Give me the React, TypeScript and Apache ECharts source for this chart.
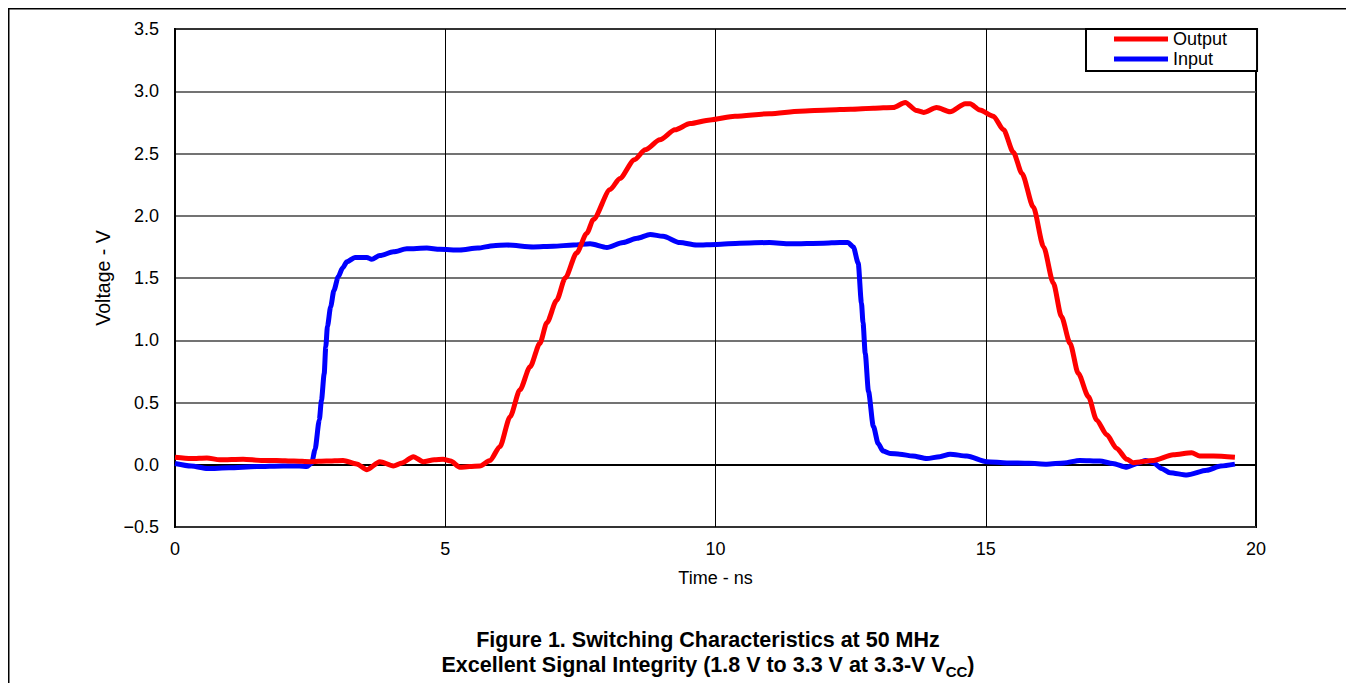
import React, { useEffect, useRef } from "react";
import * as echarts from "echarts";

const inputT = [0, 0.3, 0.6, 1.0, 1.5, 2.0, 2.3, 2.44, 2.53, 2.59, 2.67, 2.71, 2.76, 2.79, 2.82, 2.88, 2.94, 3.02, 3.1, 3.18, 3.33, 3.55, 3.64, 3.79, 4.04, 4.29, 4.66, 4.9, 5.27, 5.6, 5.89, 6.14, 6.63, 7.0, 7.37, 7.68, 7.99, 8.29, 8.55, 8.79, 9.03, 9.34, 9.65, 10.02, 10.45, 11.0, 11.38, 12.0, 12.3, 12.45, 12.55, 12.64, 12.7, 12.73, 12.77, 12.83, 12.92, 13.01, 13.1, 13.23, 13.41, 13.65, 13.91, 14.15, 14.34, 14.65, 15.02, 15.39, 15.8, 16.13, 16.45, 16.74, 17.11, 17.35, 17.61, 17.8, 17.95, 18.1, 18.25, 18.41, 18.72, 19.09, 19.35, 19.61];
const inputV = [0.01, -0.01, -0.03, -0.025, -0.015, -0.01, -0.01, -0.015, 0.015, 0.12, 0.36, 0.52, 0.73, 0.95, 1.11, 1.27, 1.4, 1.51, 1.58, 1.63, 1.665, 1.665, 1.65, 1.68, 1.71, 1.735, 1.74, 1.73, 1.725, 1.74, 1.76, 1.765, 1.75, 1.755, 1.765, 1.775, 1.745, 1.785, 1.82, 1.85, 1.835, 1.785, 1.765, 1.77, 1.78, 1.785, 1.775, 1.78, 1.785, 1.785, 1.75, 1.62, 1.3, 1.14, 0.895, 0.59, 0.31, 0.17, 0.11, 0.09, 0.085, 0.07, 0.05, 0.065, 0.085, 0.07, 0.025, 0.015, 0.012, 0.005, 0.015, 0.035, 0.03, 0.01, -0.02, 0.01, 0.035, 0.017, -0.03, -0.064, -0.083, -0.045, -0.01, 0.005];

const outputT = [0, 0.3, 0.59, 0.83, 1.26, 1.6, 1.88, 2.2, 2.5, 2.8, 3.11, 3.36, 3.55, 3.79, 4.04, 4.2, 4.41, 4.59, 4.8, 4.96, 5.1, 5.27, 5.45, 5.64, 5.83, 6.01, 6.2, 6.38, 6.57, 6.75, 6.88, 7.06, 7.22, 7.43, 7.62, 7.74, 8.05, 8.23, 8.5, 8.7, 8.97, 9.25, 9.53, 9.9, 10.36, 11.0, 11.56, 12.1, 12.5, 12.92, 13.29, 13.51, 13.72, 13.85, 14.09, 14.34, 14.62, 14.71, 14.89, 15.14, 15.33, 15.51, 15.67, 15.88, 16.07, 16.25, 16.4, 16.56, 16.71, 16.9, 17.05, 17.24, 17.42, 17.61, 17.73, 18.1, 18.47, 18.81, 18.96, 19.21, 19.61];
const outputV = [0.06, 0.05, 0.055, 0.04, 0.045, 0.035, 0.035, 0.03, 0.025, 0.03, 0.035, 0.006, -0.04, 0.025, -0.01, 0.015, 0.065, 0.025, 0.04, 0.045, 0.03, -0.02, -0.015, -0.01, 0.035, 0.145, 0.386, 0.6, 0.787, 0.975, 1.14, 1.32, 1.5, 1.7, 1.86, 1.97, 2.21, 2.3, 2.45, 2.53, 2.61, 2.69, 2.74, 2.77, 2.8, 2.82, 2.84, 2.85, 2.855, 2.863, 2.87, 2.91, 2.845, 2.83, 2.87, 2.835, 2.9, 2.9, 2.85, 2.8, 2.69, 2.51, 2.34, 2.07, 1.75, 1.46, 1.19, 0.975, 0.735, 0.547, 0.36, 0.24, 0.132, 0.044, 0.017, 0.035, 0.08, 0.097, 0.07, 0.07, 0.06];

const seriesNames = ["Output", "Input"];
const xAxisTitle = "Time - ns";
const yAxisTitle = "Voltage - V";
const captionLine1 = "Figure 1. Switching Characteristics at 50 MHz";
const captionLine2Main = "Excellent Signal Integrity (1.8 V to 3.3 V at 3.3-V V";
const captionLine2Sub = "CC";
const captionLine2Tail = ")";

const FONT = "'Liberation Sans', Arial, Helvetica, sans-serif";

function zip(t: number[], v: number[]) {
  return t.map((x, i) => [x, v[i]]);
}

function measure(text: string, font: string) {
  const ctx = document.createElement("canvas").getContext("2d");
  if (!ctx) return text.length * 10;
  ctx.font = font;
  return ctx.measureText(text).width;
}

export default function App() {
  const ref = useRef<HTMLDivElement>(null);
  useEffect(() => {
    document.documentElement.style.overflow = "hidden";
    if (!ref.current) return;
    const chart = echarts.init(ref.current, null, { renderer: "svg" });
    const capSize = 21.5;
    const subSize = 15;
    const mainFont = `bold ${capSize}px 'Liberation Sans'`;
    const subFont = `bold ${subSize}px 'Liberation Sans'`;
    const w1 = measure(captionLine2Main, mainFont);
    const w2 = measure(captionLine2Sub, subFont);
    const w3 = measure(captionLine2Tail, mainFont);
    const capCx = 700;
    const x0 = capCx - (w1 + w2 + w3) / 2;
    const line2Y = 657;
    chart.setOption({
      animation: false,
      grid: { left: 167, top: 21, width: 1081, height: 498, show: true, borderColor: "#000", borderWidth: 2, backgroundColor: "transparent" },
      xAxis: {
        type: "value",
        min: 0,
        max: 20,
        interval: 5,
        name: xAxisTitle,
        nameLocation: "middle",
        nameGap: 42,
        nameTextStyle: { color: "#000", fontSize: 18, fontFamily: FONT },
        axisLine: { show: true, lineStyle: { color: "#000", width: 2 } },
        axisTick: { show: false },
        axisLabel: { color: "#000", fontSize: 18, fontFamily: FONT, margin: 13 },
        splitLine: { show: true, lineStyle: { color: "#000", width: 1 } },
      },
      yAxis: {
        type: "value",
        min: -0.5,
        max: 3.5,
        interval: 0.5,
        name: yAxisTitle,
        nameLocation: "middle",
        nameGap: 62,
        nameTextStyle: { color: "#000", fontSize: 19.5, fontFamily: FONT },
        axisLine: { show: true, lineStyle: { color: "#000", width: 2 } },
        axisTick: { show: false },
        axisLabel: {
          color: "#000",
          fontSize: 18,
          fontFamily: FONT,
          margin: 16,
          formatter: (v: number) => (v < 0 ? "\u2212" + Math.abs(v).toFixed(1) : v.toFixed(1)),
        },
        splitLine: { show: true, lineStyle: { color: "#444", width: 1.5 } },
      },
      legend: {
        data: [
          { name: seriesNames[0], icon: "rect", itemStyle: { color: "#ff0000" } },
          { name: seriesNames[1], icon: "rect", itemStyle: { color: "#0000ff" } },
        ],
        orient: "vertical",
        left: 1078,
        top: 21,
        padding: [1, 30, 3, 28],
        borderColor: "#000",
        borderWidth: 2,
        backgroundColor: "#fff",
        itemWidth: 54,
        itemHeight: 5,
        itemGap: 2,
        textStyle: { color: "#000", fontSize: 18, fontFamily: FONT, lineHeight: 18 },
      },
      series: [
        {
          name: "Input",
          type: "line",
          data: zip(inputT, inputV),
          symbol: "none",
          showSymbol: false,
          smooth: 0.25,
          smoothMonotone: "x",
          lineStyle: { color: "#0000ff", width: 5 },
          itemStyle: { color: "#0000ff" },
        },
        {
          name: "Output",
          type: "line",
          data: zip(outputT, outputV),
          symbol: "none",
          showSymbol: false,
          smooth: 0.25,
          smoothMonotone: "x",
          lineStyle: { color: "#ff0000", width: 5 },
          itemStyle: { color: "#ff0000" },
        },
      ],
      graphic: [
        { type: "rect", shape: { x: 0.75, y: 0.75, width: 1341.5, height: 720 }, style: { fill: "none", stroke: "#000", lineWidth: 1.5 }, silent: true },
        { type: "text", x: capCx, y: 632, style: { text: captionLine1, font: mainFont, fill: "#000", textAlign: "center", textVerticalAlign: "middle" } },
        { type: "text", x: x0, y: line2Y, style: { text: captionLine2Main, font: mainFont, fill: "#000", textAlign: "left", textVerticalAlign: "middle" } },
        { type: "text", x: x0 + w1, y: line2Y + 6, style: { text: captionLine2Sub, font: subFont, fill: "#000", textAlign: "left", textVerticalAlign: "middle" } },
        { type: "text", x: x0 + w1 + w2, y: line2Y, style: { text: captionLine2Tail, font: mainFont, fill: "#000", textAlign: "left", textVerticalAlign: "middle" } },
      ],
    });
    return () => chart.dispose();
  }, []);
  return <div ref={ref} style={{ width: 1346, height: 675 }} />;
}
